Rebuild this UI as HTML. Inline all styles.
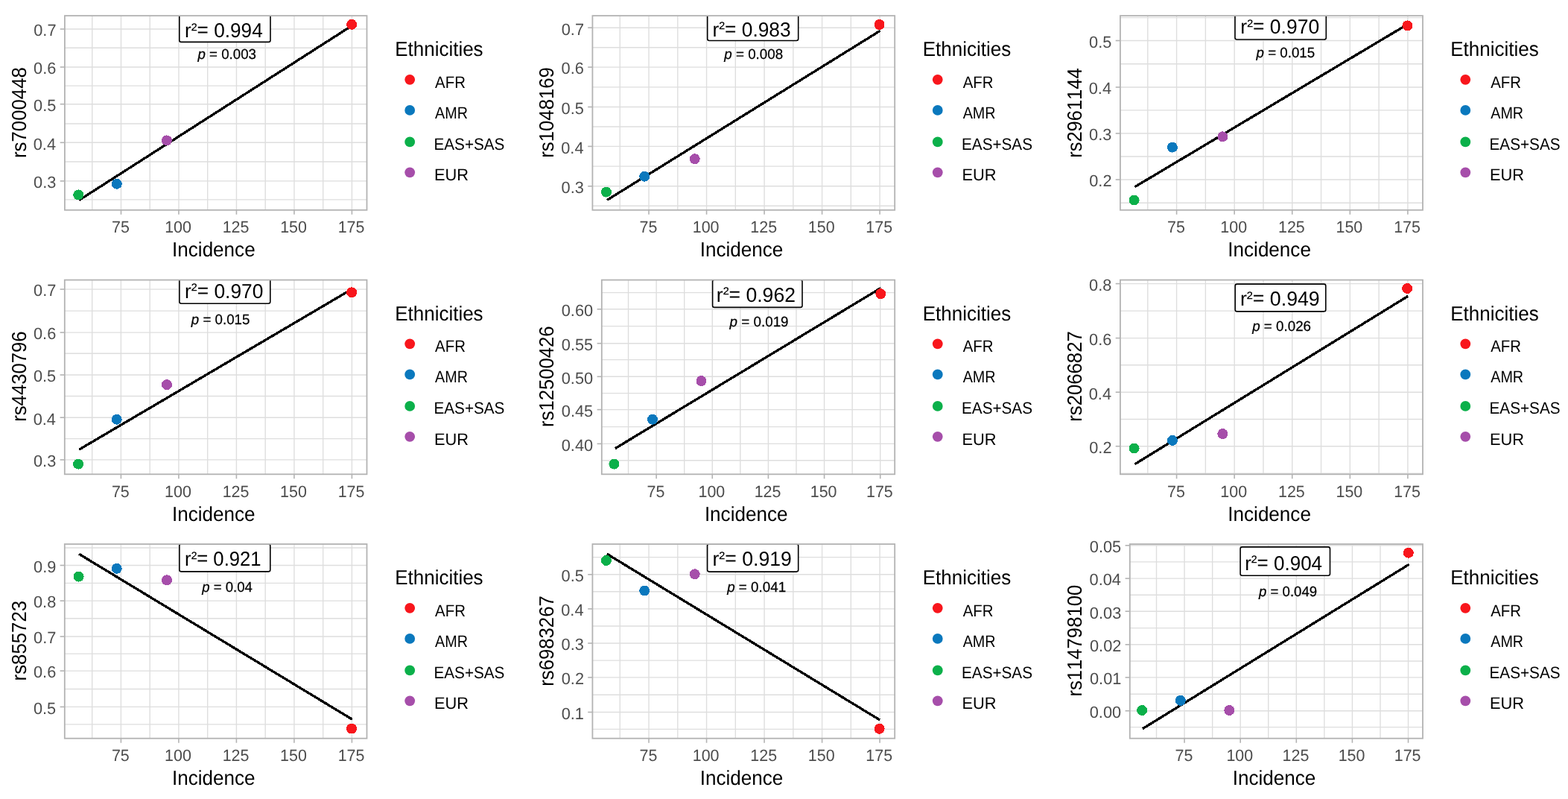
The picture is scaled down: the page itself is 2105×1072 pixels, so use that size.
<!DOCTYPE html>
<html><head><meta charset="utf-8"><title>Incidence vs allele frequency</title><style>
html,body{margin:0;padding:0;background:#fff;overflow:hidden;}
svg{display:block;}
text{font-family:"Liberation Sans",Arial,sans-serif;font-kerning:none;text-rendering:geometricPrecision;}
.gr{stroke:#DEDEDE;stroke-width:1.4;}
.bd{fill:none;stroke:#B3B3B3;stroke-width:1.8;}
.tk{stroke:#B3B3B3;stroke-width:1.6;}
.tl{font-size:22.0px;fill:#4D4D4D;}
.ti{font-size:27.4px;fill:#000;}
.lg{font-size:22.3px;fill:#000;}
.fit{stroke:#000;stroke-width:3.3;shape-rendering:crispEdges;}
.pt{shape-rendering:crispEdges;}
.lbl{fill:#fff;stroke:#000;stroke-width:1.6;}
.r2{font-size:27.2px;fill:#000;}
.pv{font-size:19.0px;fill:#000;stroke:#000;stroke-width:0.25;}
</style></head>
<body><svg width="2105" height="1072" viewBox="0 0 2105 1072">
<defs><clipPath id="c0"><rect x="86.9" y="21.1" width="405.6" height="260.7"/></clipPath><clipPath id="c1"><rect x="795.4" y="21.1" width="405.8" height="260.7"/></clipPath><clipPath id="c2"><rect x="1503.9" y="21.1" width="406.1" height="260.7"/></clipPath><clipPath id="c3"><rect x="86.8" y="375.6" width="405.7" height="260.7"/></clipPath><clipPath id="c4"><rect x="807.8" y="375.6" width="393.4" height="260.7"/></clipPath><clipPath id="c5"><rect x="1503.9" y="375.6" width="406.1" height="260.7"/></clipPath><clipPath id="c6"><rect x="86.8" y="730" width="405.7" height="260.7"/></clipPath><clipPath id="c7"><rect x="795.4" y="730" width="405.8" height="260.7"/></clipPath><clipPath id="c8"><rect x="1516.8" y="730" width="393.2" height="260.7"/></clipPath></defs>
<rect width="2105" height="1072" fill="#fff"/>
<g><line x1="86.9" x2="492.5" y1="267.86" y2="267.86" class="gr"/><line x1="86.9" x2="492.5" y1="216.95" y2="216.95" class="gr"/><line x1="86.9" x2="492.5" y1="166.04" y2="166.04" class="gr"/><line x1="86.9" x2="492.5" y1="115.13" y2="115.13" class="gr"/><line x1="86.9" x2="492.5" y1="64.22" y2="64.22" class="gr"/><line x1="123.75" x2="123.75" y1="21.1" y2="281.8" class="gr"/><line x1="201.23" x2="201.23" y1="21.1" y2="281.8" class="gr"/><line x1="278.71" x2="278.71" y1="21.1" y2="281.8" class="gr"/><line x1="356.19" x2="356.19" y1="21.1" y2="281.8" class="gr"/><line x1="433.68" x2="433.68" y1="21.1" y2="281.8" class="gr"/><line x1="86.9" x2="492.5" y1="242.9" y2="242.9" class="gr"/><line x1="86.9" x2="492.5" y1="191.3" y2="191.3" class="gr"/><line x1="86.9" x2="492.5" y1="139.7" y2="139.7" class="gr"/><line x1="86.9" x2="492.5" y1="90" y2="90" class="gr"/><line x1="86.9" x2="492.5" y1="39" y2="39" class="gr"/><line x1="162.49" x2="162.49" y1="21.1" y2="281.8" class="gr"/><line x1="239.97" x2="239.97" y1="21.1" y2="281.8" class="gr"/><line x1="317.45" x2="317.45" y1="21.1" y2="281.8" class="gr"/><line x1="394.94" x2="394.94" y1="21.1" y2="281.8" class="gr"/><line x1="472.42" x2="472.42" y1="21.1" y2="281.8" class="gr"/><g clip-path="url(#c0)"><line x1="106" y1="268.7" x2="473" y2="34.1" class="fit"/><circle cx="105.2" cy="261.4" r="7" fill="#0BB04A" class="pt"/><circle cx="156.8" cy="246.7" r="7" fill="#0A78BD" class="pt"/><circle cx="223.9" cy="188.4" r="7" fill="#A64EAA" class="pt"/><circle cx="472.1" cy="32.8" r="7" fill="#F8161C" class="pt"/><rect x="240.8" y="19.1" width="122.2" height="37.3" rx="2.5" class="lbl"/><text x="248.06" y="50.3" class="r2" textLength="104.71" lengthAdjust="spacingAndGlyphs">r<tspan font-size="0.89em" dy="-2.7">²</tspan><tspan dy="1.7">=</tspan><tspan dy="1"> 0.994</tspan></text><text x="265.47" y="78.85" class="pv" textLength="78.56" lengthAdjust="spacingAndGlyphs"><tspan font-style="italic">p</tspan> = 0.003</text></g><rect x="86.9" y="21.1" width="405.6" height="260.7" class="bd"/><line x1="80.7" x2="86.9" y1="242.9" y2="242.9" class="tk"/><text x="45.08" y="252.2" class="tl" textLength="30.28" lengthAdjust="spacingAndGlyphs">0.3</text><line x1="80.7" x2="86.9" y1="191.3" y2="191.3" class="tk"/><text x="44.76" y="200.6" class="tl" textLength="30.28" lengthAdjust="spacingAndGlyphs">0.4</text><line x1="80.7" x2="86.9" y1="139.7" y2="139.7" class="tk"/><text x="45.04" y="149" class="tl" textLength="30.28" lengthAdjust="spacingAndGlyphs">0.5</text><line x1="80.7" x2="86.9" y1="90" y2="90" class="tk"/><text x="45.08" y="99.3" class="tl" textLength="30.28" lengthAdjust="spacingAndGlyphs">0.6</text><line x1="80.7" x2="86.9" y1="39" y2="39" class="tk"/><text x="45.22" y="48.3" class="tl" textLength="30.28" lengthAdjust="spacingAndGlyphs">0.7</text><line x1="162.49" x2="162.49" y1="281.8" y2="287.8" class="tk"/><text x="149.96" y="312.4" class="tl" textLength="23.86" lengthAdjust="spacingAndGlyphs">75</text><line x1="239.97" x2="239.97" y1="281.8" y2="287.8" class="tk"/><text x="221.18" y="312.4" class="tl" textLength="35.79" lengthAdjust="spacingAndGlyphs">100</text><line x1="317.45" x2="317.45" y1="281.8" y2="287.8" class="tk"/><text x="298.69" y="312.4" class="tl" textLength="35.79" lengthAdjust="spacingAndGlyphs">125</text><line x1="394.94" x2="394.94" y1="281.8" y2="287.8" class="tk"/><text x="376.14" y="312.4" class="tl" textLength="35.79" lengthAdjust="spacingAndGlyphs">150</text><line x1="472.42" x2="472.42" y1="281.8" y2="287.8" class="tk"/><text x="453.66" y="312.4" class="tl" textLength="35.79" lengthAdjust="spacingAndGlyphs">175</text><text x="231.09" y="344.4" class="ti" textLength="111.56" lengthAdjust="spacingAndGlyphs">Incidence</text><text transform="translate(35,0) rotate(-90)" x="-212.01" y="0" class="ti" textLength="121.83" lengthAdjust="spacingAndGlyphs">rs7000448</text><text x="530.17" y="75.3" class="ti" textLength="118.47" lengthAdjust="spacingAndGlyphs">Ethnicities</text><circle cx="550.2" cy="106.8" r="6.9" fill="#F8161C"/><text x="584.11" y="117.9" class="lg" textLength="40.84" lengthAdjust="spacingAndGlyphs">AFR</text><circle cx="550.2" cy="147.9" r="6.9" fill="#0A78BD"/><text x="584.11" y="158.9" class="lg" textLength="43.91" lengthAdjust="spacingAndGlyphs">AMR</text><circle cx="550.2" cy="190.4" r="6.9" fill="#0BB04A"/><text x="582.45" y="200.9" class="lg" textLength="95" lengthAdjust="spacingAndGlyphs">EAS+SAS</text><circle cx="550.2" cy="231.3" r="6.9" fill="#A64EAA"/><text x="582.91" y="242.2" class="lg" textLength="46.1" lengthAdjust="spacingAndGlyphs">EUR</text></g>
<g><line x1="795.4" x2="1201.2" y1="276.28" y2="276.28" class="gr"/><line x1="795.4" x2="1201.2" y1="223.13" y2="223.13" class="gr"/><line x1="795.4" x2="1201.2" y1="169.98" y2="169.98" class="gr"/><line x1="795.4" x2="1201.2" y1="116.83" y2="116.83" class="gr"/><line x1="795.4" x2="1201.2" y1="63.68" y2="63.68" class="gr"/><line x1="832.27" x2="832.27" y1="21.1" y2="281.8" class="gr"/><line x1="909.79" x2="909.79" y1="21.1" y2="281.8" class="gr"/><line x1="987.31" x2="987.31" y1="21.1" y2="281.8" class="gr"/><line x1="1064.83" x2="1064.83" y1="21.1" y2="281.8" class="gr"/><line x1="1142.35" x2="1142.35" y1="21.1" y2="281.8" class="gr"/><line x1="795.4" x2="1201.2" y1="249.8" y2="249.8" class="gr"/><line x1="795.4" x2="1201.2" y1="196.4" y2="196.4" class="gr"/><line x1="795.4" x2="1201.2" y1="143.5" y2="143.5" class="gr"/><line x1="795.4" x2="1201.2" y1="90.1" y2="90.1" class="gr"/><line x1="795.4" x2="1201.2" y1="37.2" y2="37.2" class="gr"/><line x1="871.03" x2="871.03" y1="21.1" y2="281.8" class="gr"/><line x1="948.55" x2="948.55" y1="21.1" y2="281.8" class="gr"/><line x1="1026.07" x2="1026.07" y1="21.1" y2="281.8" class="gr"/><line x1="1103.59" x2="1103.59" y1="21.1" y2="281.8" class="gr"/><line x1="1181.11" x2="1181.11" y1="21.1" y2="281.8" class="gr"/><g clip-path="url(#c1)"><line x1="815" y1="268.4" x2="1181.5" y2="41.3" class="fit"/><circle cx="813.9" cy="257.6" r="7" fill="#0BB04A" class="pt"/><circle cx="865.2" cy="236.7" r="7" fill="#0A78BD" class="pt"/><circle cx="932.7" cy="213.2" r="7" fill="#A64EAA" class="pt"/><circle cx="1180.6" cy="33" r="7" fill="#F8161C" class="pt"/><rect x="949.7" y="17.2" width="122" height="37.3" rx="2.5" class="lbl"/><text x="956.55" y="48.7" class="r2" textLength="105.1" lengthAdjust="spacingAndGlyphs">r<tspan font-size="0.89em" dy="-2.7">²</tspan><tspan dy="1.7">=</tspan><tspan dy="1"> 0.983</tspan></text><text x="972.27" y="78.5" class="pv" textLength="78.95" lengthAdjust="spacingAndGlyphs"><tspan font-style="italic">p</tspan> = 0.008</text></g><rect x="795.4" y="21.1" width="405.8" height="260.7" class="bd"/><line x1="789.2" x2="795.4" y1="249.8" y2="249.8" class="tk"/><text x="753.58" y="259.1" class="tl" textLength="30.28" lengthAdjust="spacingAndGlyphs">0.3</text><line x1="789.2" x2="795.4" y1="196.4" y2="196.4" class="tk"/><text x="753.26" y="205.7" class="tl" textLength="30.28" lengthAdjust="spacingAndGlyphs">0.4</text><line x1="789.2" x2="795.4" y1="143.5" y2="143.5" class="tk"/><text x="753.54" y="152.8" class="tl" textLength="30.28" lengthAdjust="spacingAndGlyphs">0.5</text><line x1="789.2" x2="795.4" y1="90.1" y2="90.1" class="tk"/><text x="753.58" y="99.4" class="tl" textLength="30.28" lengthAdjust="spacingAndGlyphs">0.6</text><line x1="789.2" x2="795.4" y1="37.2" y2="37.2" class="tk"/><text x="753.72" y="46.5" class="tl" textLength="30.28" lengthAdjust="spacingAndGlyphs">0.7</text><line x1="871.03" x2="871.03" y1="281.8" y2="287.8" class="tk"/><text x="858.5" y="312.4" class="tl" textLength="23.86" lengthAdjust="spacingAndGlyphs">75</text><line x1="948.55" x2="948.55" y1="281.8" y2="287.8" class="tk"/><text x="929.76" y="312.4" class="tl" textLength="35.79" lengthAdjust="spacingAndGlyphs">100</text><line x1="1026.07" x2="1026.07" y1="281.8" y2="287.8" class="tk"/><text x="1007.31" y="312.4" class="tl" textLength="35.79" lengthAdjust="spacingAndGlyphs">125</text><line x1="1103.59" x2="1103.59" y1="281.8" y2="287.8" class="tk"/><text x="1084.8" y="312.4" class="tl" textLength="35.79" lengthAdjust="spacingAndGlyphs">150</text><line x1="1181.11" x2="1181.11" y1="281.8" y2="287.8" class="tk"/><text x="1162.35" y="312.4" class="tl" textLength="35.79" lengthAdjust="spacingAndGlyphs">175</text><text x="939.69" y="344.4" class="ti" textLength="111.56" lengthAdjust="spacingAndGlyphs">Incidence</text><text transform="translate(742.8,0) rotate(-90)" x="-211.81" y="0" class="ti" textLength="121.73" lengthAdjust="spacingAndGlyphs">rs1048169</text><text x="1238.72" y="75.3" class="ti" textLength="118.47" lengthAdjust="spacingAndGlyphs">Ethnicities</text><circle cx="1258.75" cy="106.8" r="6.9" fill="#F8161C"/><text x="1292.66" y="117.9" class="lg" textLength="40.84" lengthAdjust="spacingAndGlyphs">AFR</text><circle cx="1258.75" cy="147.9" r="6.9" fill="#0A78BD"/><text x="1292.66" y="158.9" class="lg" textLength="43.91" lengthAdjust="spacingAndGlyphs">AMR</text><circle cx="1258.75" cy="190.4" r="6.9" fill="#0BB04A"/><text x="1291" y="200.9" class="lg" textLength="95" lengthAdjust="spacingAndGlyphs">EAS+SAS</text><circle cx="1258.75" cy="231.3" r="6.9" fill="#A64EAA"/><text x="1291.46" y="242.2" class="lg" textLength="46.1" lengthAdjust="spacingAndGlyphs">EUR</text></g>
<g><line x1="1503.9" x2="1910" y1="272.18" y2="272.18" class="gr"/><line x1="1503.9" x2="1910" y1="210.03" y2="210.03" class="gr"/><line x1="1503.9" x2="1910" y1="147.88" y2="147.88" class="gr"/><line x1="1503.9" x2="1910" y1="85.73" y2="85.73" class="gr"/><line x1="1503.9" x2="1910" y1="23.58" y2="23.58" class="gr"/><line x1="1540.8" x2="1540.8" y1="21.1" y2="281.8" class="gr"/><line x1="1618.37" x2="1618.37" y1="21.1" y2="281.8" class="gr"/><line x1="1695.95" x2="1695.95" y1="21.1" y2="281.8" class="gr"/><line x1="1773.53" x2="1773.53" y1="21.1" y2="281.8" class="gr"/><line x1="1851.1" x2="1851.1" y1="21.1" y2="281.8" class="gr"/><line x1="1503.9" x2="1910" y1="241" y2="241" class="gr"/><line x1="1503.9" x2="1910" y1="179" y2="179" class="gr"/><line x1="1503.9" x2="1910" y1="117" y2="117" class="gr"/><line x1="1503.9" x2="1910" y1="54.5" y2="54.5" class="gr"/><line x1="1579.58" x2="1579.58" y1="21.1" y2="281.8" class="gr"/><line x1="1657.16" x2="1657.16" y1="21.1" y2="281.8" class="gr"/><line x1="1734.74" x2="1734.74" y1="21.1" y2="281.8" class="gr"/><line x1="1812.32" x2="1812.32" y1="21.1" y2="281.8" class="gr"/><line x1="1889.89" x2="1889.89" y1="21.1" y2="281.8" class="gr"/><g clip-path="url(#c2)"><line x1="1523.4" y1="250.8" x2="1890.2" y2="32.3" class="fit"/><circle cx="1522.6" cy="268.5" r="7" fill="#0BB04A" class="pt"/><circle cx="1573.9" cy="197.6" r="7" fill="#0A78BD" class="pt"/><circle cx="1641.4" cy="183.3" r="7" fill="#A64EAA" class="pt"/><circle cx="1889.4" cy="34.4" r="7" fill="#F8161C" class="pt"/><rect x="1658" y="15.7" width="122.3" height="37.3" rx="2.5" class="lbl"/><text x="1665.34" y="45.2" class="r2" textLength="105.79" lengthAdjust="spacingAndGlyphs">r<tspan font-size="0.89em" dy="-2.7">²</tspan><tspan dy="1.7">=</tspan><tspan dy="1"> 0.970</tspan></text><text x="1686.57" y="77" class="pv" textLength="78.52" lengthAdjust="spacingAndGlyphs"><tspan font-style="italic">p</tspan> = 0.015</text></g><rect x="1503.9" y="21.1" width="406.1" height="260.7" class="bd"/><line x1="1497.7" x2="1503.9" y1="241" y2="241" class="tk"/><text x="1462.22" y="250.3" class="tl" textLength="30.28" lengthAdjust="spacingAndGlyphs">0.2</text><line x1="1497.7" x2="1503.9" y1="179" y2="179" class="tk"/><text x="1462.08" y="188.3" class="tl" textLength="30.28" lengthAdjust="spacingAndGlyphs">0.3</text><line x1="1497.7" x2="1503.9" y1="117" y2="117" class="tk"/><text x="1461.76" y="126.3" class="tl" textLength="30.28" lengthAdjust="spacingAndGlyphs">0.4</text><line x1="1497.7" x2="1503.9" y1="54.5" y2="54.5" class="tk"/><text x="1462.04" y="63.8" class="tl" textLength="30.28" lengthAdjust="spacingAndGlyphs">0.5</text><line x1="1579.58" x2="1579.58" y1="281.8" y2="287.8" class="tk"/><text x="1567.06" y="312.4" class="tl" textLength="23.86" lengthAdjust="spacingAndGlyphs">75</text><line x1="1657.16" x2="1657.16" y1="281.8" y2="287.8" class="tk"/><text x="1638.37" y="312.4" class="tl" textLength="35.79" lengthAdjust="spacingAndGlyphs">100</text><line x1="1734.74" x2="1734.74" y1="281.8" y2="287.8" class="tk"/><text x="1715.98" y="312.4" class="tl" textLength="35.79" lengthAdjust="spacingAndGlyphs">125</text><line x1="1812.32" x2="1812.32" y1="281.8" y2="287.8" class="tk"/><text x="1793.52" y="312.4" class="tl" textLength="35.79" lengthAdjust="spacingAndGlyphs">150</text><line x1="1889.89" x2="1889.89" y1="281.8" y2="287.8" class="tk"/><text x="1871.13" y="312.4" class="tl" textLength="35.79" lengthAdjust="spacingAndGlyphs">175</text><text x="1648.34" y="344.4" class="ti" textLength="111.56" lengthAdjust="spacingAndGlyphs">Incidence</text><text transform="translate(1452.2,0) rotate(-90)" x="-211.79" y="0" class="ti" textLength="120.34" lengthAdjust="spacingAndGlyphs">rs2961144</text><text x="1947.27" y="75.3" class="ti" textLength="118.47" lengthAdjust="spacingAndGlyphs">Ethnicities</text><circle cx="1967.3" cy="106.8" r="6.9" fill="#F8161C"/><text x="2001.21" y="117.9" class="lg" textLength="40.84" lengthAdjust="spacingAndGlyphs">AFR</text><circle cx="1967.3" cy="147.9" r="6.9" fill="#0A78BD"/><text x="2001.21" y="158.9" class="lg" textLength="43.91" lengthAdjust="spacingAndGlyphs">AMR</text><circle cx="1967.3" cy="190.4" r="6.9" fill="#0BB04A"/><text x="1999.55" y="200.9" class="lg" textLength="95" lengthAdjust="spacingAndGlyphs">EAS+SAS</text><circle cx="1967.3" cy="231.3" r="6.9" fill="#A64EAA"/><text x="2000.01" y="242.2" class="lg" textLength="46.1" lengthAdjust="spacingAndGlyphs">EUR</text></g>
<g><line x1="86.8" x2="492.5" y1="588.62" y2="588.62" class="gr"/><line x1="86.8" x2="492.5" y1="531.45" y2="531.45" class="gr"/><line x1="86.8" x2="492.5" y1="474.28" y2="474.28" class="gr"/><line x1="86.8" x2="492.5" y1="417.11" y2="417.11" class="gr"/><line x1="123.66" x2="123.66" y1="375.6" y2="636.3" class="gr"/><line x1="201.16" x2="201.16" y1="375.6" y2="636.3" class="gr"/><line x1="278.66" x2="278.66" y1="375.6" y2="636.3" class="gr"/><line x1="356.16" x2="356.16" y1="375.6" y2="636.3" class="gr"/><line x1="433.66" x2="433.66" y1="375.6" y2="636.3" class="gr"/><line x1="86.8" x2="492.5" y1="616.9" y2="616.9" class="gr"/><line x1="86.8" x2="492.5" y1="560.2" y2="560.2" class="gr"/><line x1="86.8" x2="492.5" y1="503" y2="503" class="gr"/><line x1="86.8" x2="492.5" y1="446.1" y2="446.1" class="gr"/><line x1="86.8" x2="492.5" y1="388.1" y2="388.1" class="gr"/><line x1="162.41" x2="162.41" y1="375.6" y2="636.3" class="gr"/><line x1="239.91" x2="239.91" y1="375.6" y2="636.3" class="gr"/><line x1="317.41" x2="317.41" y1="375.6" y2="636.3" class="gr"/><line x1="394.91" x2="394.91" y1="375.6" y2="636.3" class="gr"/><line x1="472.41" x2="472.41" y1="375.6" y2="636.3" class="gr"/><g clip-path="url(#c3)"><line x1="106.2" y1="603.2" x2="473" y2="387.6" class="fit"/><circle cx="105.1" cy="622.6" r="7" fill="#0BB04A" class="pt"/><circle cx="156.7" cy="562.7" r="7" fill="#0A78BD" class="pt"/><circle cx="224" cy="516.1" r="7" fill="#A64EAA" class="pt"/><circle cx="472.1" cy="392.3" r="7" fill="#F8161C" class="pt"/><rect x="240.9" y="369.9" width="121.9" height="37.3" rx="2.5" class="lbl"/><text x="248.05" y="399.8" class="r2" textLength="105.38" lengthAdjust="spacingAndGlyphs">r<tspan font-size="0.89em" dy="-2.7">²</tspan><tspan dy="1.7">=</tspan><tspan dy="1"> 0.970</tspan></text><text x="256.87" y="434.7" class="pv" textLength="78.52" lengthAdjust="spacingAndGlyphs"><tspan font-style="italic">p</tspan> = 0.015</text></g><rect x="86.8" y="375.6" width="405.7" height="260.7" class="bd"/><line x1="80.6" x2="86.8" y1="616.9" y2="616.9" class="tk"/><text x="44.98" y="626.2" class="tl" textLength="30.28" lengthAdjust="spacingAndGlyphs">0.3</text><line x1="80.6" x2="86.8" y1="560.2" y2="560.2" class="tk"/><text x="44.66" y="569.5" class="tl" textLength="30.28" lengthAdjust="spacingAndGlyphs">0.4</text><line x1="80.6" x2="86.8" y1="503" y2="503" class="tk"/><text x="44.94" y="512.3" class="tl" textLength="30.28" lengthAdjust="spacingAndGlyphs">0.5</text><line x1="80.6" x2="86.8" y1="446.1" y2="446.1" class="tk"/><text x="44.98" y="455.4" class="tl" textLength="30.28" lengthAdjust="spacingAndGlyphs">0.6</text><line x1="80.6" x2="86.8" y1="388.1" y2="388.1" class="tk"/><text x="45.12" y="397.4" class="tl" textLength="30.28" lengthAdjust="spacingAndGlyphs">0.7</text><line x1="162.41" x2="162.41" y1="636.3" y2="642.3" class="tk"/><text x="149.88" y="666.9" class="tl" textLength="23.86" lengthAdjust="spacingAndGlyphs">75</text><line x1="239.91" x2="239.91" y1="636.3" y2="642.3" class="tk"/><text x="221.12" y="666.9" class="tl" textLength="35.79" lengthAdjust="spacingAndGlyphs">100</text><line x1="317.41" x2="317.41" y1="636.3" y2="642.3" class="tk"/><text x="298.65" y="666.9" class="tl" textLength="35.79" lengthAdjust="spacingAndGlyphs">125</text><line x1="394.91" x2="394.91" y1="636.3" y2="642.3" class="tk"/><text x="376.12" y="666.9" class="tl" textLength="35.79" lengthAdjust="spacingAndGlyphs">150</text><line x1="472.41" x2="472.41" y1="636.3" y2="642.3" class="tk"/><text x="453.65" y="666.9" class="tl" textLength="35.79" lengthAdjust="spacingAndGlyphs">175</text><text x="231.04" y="698.9" class="ti" textLength="111.56" lengthAdjust="spacingAndGlyphs">Incidence</text><text transform="translate(35,0) rotate(-90)" x="-565.81" y="0" class="ti" textLength="121.44" lengthAdjust="spacingAndGlyphs">rs4430796</text><text x="530.17" y="429.8" class="ti" textLength="118.47" lengthAdjust="spacingAndGlyphs">Ethnicities</text><circle cx="550.2" cy="461.3" r="6.9" fill="#F8161C"/><text x="584.11" y="472.4" class="lg" textLength="40.84" lengthAdjust="spacingAndGlyphs">AFR</text><circle cx="550.2" cy="502.4" r="6.9" fill="#0A78BD"/><text x="584.11" y="513.4" class="lg" textLength="43.91" lengthAdjust="spacingAndGlyphs">AMR</text><circle cx="550.2" cy="544.9" r="6.9" fill="#0BB04A"/><text x="582.45" y="555.4" class="lg" textLength="95" lengthAdjust="spacingAndGlyphs">EAS+SAS</text><circle cx="550.2" cy="585.8" r="6.9" fill="#A64EAA"/><text x="582.91" y="596.7" class="lg" textLength="46.1" lengthAdjust="spacingAndGlyphs">EUR</text></g>
<g><line x1="807.8" x2="1201.2" y1="617.68" y2="617.68" class="gr"/><line x1="807.8" x2="1201.2" y1="572.67" y2="572.67" class="gr"/><line x1="807.8" x2="1201.2" y1="527.66" y2="527.66" class="gr"/><line x1="807.8" x2="1201.2" y1="482.65" y2="482.65" class="gr"/><line x1="807.8" x2="1201.2" y1="437.64" y2="437.64" class="gr"/><line x1="807.8" x2="1201.2" y1="392.63" y2="392.63" class="gr"/><line x1="843.54" x2="843.54" y1="375.6" y2="636.3" class="gr"/><line x1="918.69" x2="918.69" y1="375.6" y2="636.3" class="gr"/><line x1="993.84" x2="993.84" y1="375.6" y2="636.3" class="gr"/><line x1="1068.99" x2="1068.99" y1="375.6" y2="636.3" class="gr"/><line x1="1144.15" x2="1144.15" y1="375.6" y2="636.3" class="gr"/><line x1="807.8" x2="1201.2" y1="595.4" y2="595.4" class="gr"/><line x1="807.8" x2="1201.2" y1="549.6" y2="549.6" class="gr"/><line x1="807.8" x2="1201.2" y1="505.3" y2="505.3" class="gr"/><line x1="807.8" x2="1201.2" y1="460.7" y2="460.7" class="gr"/><line x1="807.8" x2="1201.2" y1="414.8" y2="414.8" class="gr"/><line x1="881.12" x2="881.12" y1="375.6" y2="636.3" class="gr"/><line x1="956.27" x2="956.27" y1="375.6" y2="636.3" class="gr"/><line x1="1031.42" x2="1031.42" y1="375.6" y2="636.3" class="gr"/><line x1="1106.57" x2="1106.57" y1="375.6" y2="636.3" class="gr"/><line x1="1181.72" x2="1181.72" y1="375.6" y2="636.3" class="gr"/><g clip-path="url(#c4)"><line x1="825.8" y1="601.7" x2="1182.2" y2="386.6" class="fit"/><circle cx="824.4" cy="622.6" r="7" fill="#0BB04A" class="pt"/><circle cx="876" cy="562.7" r="7" fill="#0A78BD" class="pt"/><circle cx="941.5" cy="511.1" r="7" fill="#A64EAA" class="pt"/><circle cx="1182.3" cy="394.1" r="7" fill="#F8161C" class="pt"/><rect x="956.6" y="375.1" width="120.4" height="37.3" rx="2.5" class="lbl"/><text x="961.84" y="404.9" class="r2" textLength="106.1" lengthAdjust="spacingAndGlyphs">r<tspan font-size="0.89em" dy="-2.7">²</tspan><tspan dy="1.7">=</tspan><tspan dy="1"> 0.962</tspan></text><text x="979.57" y="438.2" class="pv" textLength="79.02" lengthAdjust="spacingAndGlyphs"><tspan font-style="italic">p</tspan> = 0.019</text></g><rect x="807.8" y="375.6" width="393.4" height="260.7" class="bd"/><line x1="801.6" x2="807.8" y1="595.4" y2="595.4" class="tk"/><text x="753.76" y="604.7" class="tl" textLength="42.39" lengthAdjust="spacingAndGlyphs">0.40</text><line x1="801.6" x2="807.8" y1="549.6" y2="549.6" class="tk"/><text x="753.82" y="558.9" class="tl" textLength="42.39" lengthAdjust="spacingAndGlyphs">0.45</text><line x1="801.6" x2="807.8" y1="505.3" y2="505.3" class="tk"/><text x="753.76" y="514.6" class="tl" textLength="42.39" lengthAdjust="spacingAndGlyphs">0.50</text><line x1="801.6" x2="807.8" y1="460.7" y2="460.7" class="tk"/><text x="753.82" y="470" class="tl" textLength="42.39" lengthAdjust="spacingAndGlyphs">0.55</text><line x1="801.6" x2="807.8" y1="414.8" y2="414.8" class="tk"/><text x="753.76" y="424.1" class="tl" textLength="42.39" lengthAdjust="spacingAndGlyphs">0.60</text><line x1="881.12" x2="881.12" y1="636.3" y2="642.3" class="tk"/><text x="868.59" y="666.9" class="tl" textLength="23.86" lengthAdjust="spacingAndGlyphs">75</text><line x1="956.27" x2="956.27" y1="636.3" y2="642.3" class="tk"/><text x="937.48" y="666.9" class="tl" textLength="35.79" lengthAdjust="spacingAndGlyphs">100</text><line x1="1031.42" x2="1031.42" y1="636.3" y2="642.3" class="tk"/><text x="1012.66" y="666.9" class="tl" textLength="35.79" lengthAdjust="spacingAndGlyphs">125</text><line x1="1106.57" x2="1106.57" y1="636.3" y2="642.3" class="tk"/><text x="1087.78" y="666.9" class="tl" textLength="35.79" lengthAdjust="spacingAndGlyphs">150</text><line x1="1181.72" x2="1181.72" y1="636.3" y2="642.3" class="tk"/><text x="1162.96" y="666.9" class="tl" textLength="35.79" lengthAdjust="spacingAndGlyphs">175</text><text x="945.89" y="698.9" class="ti" textLength="111.56" lengthAdjust="spacingAndGlyphs">Incidence</text><text transform="translate(742.8,0) rotate(-90)" x="-572.9" y="0" class="ti" textLength="135.33" lengthAdjust="spacingAndGlyphs">rs12500426</text><text x="1238.72" y="429.8" class="ti" textLength="118.47" lengthAdjust="spacingAndGlyphs">Ethnicities</text><circle cx="1258.75" cy="461.3" r="6.9" fill="#F8161C"/><text x="1292.66" y="472.4" class="lg" textLength="40.84" lengthAdjust="spacingAndGlyphs">AFR</text><circle cx="1258.75" cy="502.4" r="6.9" fill="#0A78BD"/><text x="1292.66" y="513.4" class="lg" textLength="43.91" lengthAdjust="spacingAndGlyphs">AMR</text><circle cx="1258.75" cy="544.9" r="6.9" fill="#0BB04A"/><text x="1291" y="555.4" class="lg" textLength="95" lengthAdjust="spacingAndGlyphs">EAS+SAS</text><circle cx="1258.75" cy="585.8" r="6.9" fill="#A64EAA"/><text x="1291.46" y="596.7" class="lg" textLength="46.1" lengthAdjust="spacingAndGlyphs">EUR</text></g>
<g><line x1="1503.9" x2="1910" y1="635.16" y2="635.16" class="gr"/><line x1="1503.9" x2="1910" y1="562.47" y2="562.47" class="gr"/><line x1="1503.9" x2="1910" y1="489.78" y2="489.78" class="gr"/><line x1="1503.9" x2="1910" y1="417.09" y2="417.09" class="gr"/><line x1="1540.8" x2="1540.8" y1="375.6" y2="636.3" class="gr"/><line x1="1618.37" x2="1618.37" y1="375.6" y2="636.3" class="gr"/><line x1="1695.95" x2="1695.95" y1="375.6" y2="636.3" class="gr"/><line x1="1773.53" x2="1773.53" y1="375.6" y2="636.3" class="gr"/><line x1="1851.1" x2="1851.1" y1="375.6" y2="636.3" class="gr"/><line x1="1503.9" x2="1910" y1="598.7" y2="598.7" class="gr"/><line x1="1503.9" x2="1910" y1="526.2" y2="526.2" class="gr"/><line x1="1503.9" x2="1910" y1="453.6" y2="453.6" class="gr"/><line x1="1503.9" x2="1910" y1="380.6" y2="380.6" class="gr"/><line x1="1579.58" x2="1579.58" y1="375.6" y2="636.3" class="gr"/><line x1="1657.16" x2="1657.16" y1="375.6" y2="636.3" class="gr"/><line x1="1734.74" x2="1734.74" y1="375.6" y2="636.3" class="gr"/><line x1="1812.32" x2="1812.32" y1="375.6" y2="636.3" class="gr"/><line x1="1889.89" x2="1889.89" y1="375.6" y2="636.3" class="gr"/><g clip-path="url(#c5)"><line x1="1523.4" y1="622.8" x2="1890.2" y2="397.3" class="fit"/><circle cx="1522.6" cy="601.5" r="7" fill="#0BB04A" class="pt"/><circle cx="1573.9" cy="590.9" r="7" fill="#0A78BD" class="pt"/><circle cx="1641.4" cy="582.1" r="7" fill="#A64EAA" class="pt"/><circle cx="1889.2" cy="387" r="7" fill="#F8161C" class="pt"/><rect x="1658.2" y="381.1" width="121.6" height="36.8" rx="2.5" class="lbl"/><text x="1664.92" y="410.3" class="r2" textLength="106.84" lengthAdjust="spacingAndGlyphs">r<tspan font-size="0.89em" dy="-2.7">²</tspan><tspan dy="1.7">=</tspan><tspan dy="1"> 0.949</tspan></text><text x="1681.17" y="443.6" class="pv" textLength="78.86" lengthAdjust="spacingAndGlyphs"><tspan font-style="italic">p</tspan> = 0.026</text></g><rect x="1503.9" y="375.6" width="406.1" height="260.7" class="bd"/><line x1="1497.7" x2="1503.9" y1="598.7" y2="598.7" class="tk"/><text x="1462.22" y="608" class="tl" textLength="30.28" lengthAdjust="spacingAndGlyphs">0.2</text><line x1="1497.7" x2="1503.9" y1="526.2" y2="526.2" class="tk"/><text x="1461.76" y="535.5" class="tl" textLength="30.28" lengthAdjust="spacingAndGlyphs">0.4</text><line x1="1497.7" x2="1503.9" y1="453.6" y2="453.6" class="tk"/><text x="1462.08" y="462.9" class="tl" textLength="30.28" lengthAdjust="spacingAndGlyphs">0.6</text><line x1="1497.7" x2="1503.9" y1="380.6" y2="380.6" class="tk"/><text x="1462.07" y="389.9" class="tl" textLength="30.28" lengthAdjust="spacingAndGlyphs">0.8</text><line x1="1579.58" x2="1579.58" y1="636.3" y2="642.3" class="tk"/><text x="1567.06" y="666.9" class="tl" textLength="23.86" lengthAdjust="spacingAndGlyphs">75</text><line x1="1657.16" x2="1657.16" y1="636.3" y2="642.3" class="tk"/><text x="1638.37" y="666.9" class="tl" textLength="35.79" lengthAdjust="spacingAndGlyphs">100</text><line x1="1734.74" x2="1734.74" y1="636.3" y2="642.3" class="tk"/><text x="1715.98" y="666.9" class="tl" textLength="35.79" lengthAdjust="spacingAndGlyphs">125</text><line x1="1812.32" x2="1812.32" y1="636.3" y2="642.3" class="tk"/><text x="1793.52" y="666.9" class="tl" textLength="35.79" lengthAdjust="spacingAndGlyphs">150</text><line x1="1889.89" x2="1889.89" y1="636.3" y2="642.3" class="tk"/><text x="1871.13" y="666.9" class="tl" textLength="35.79" lengthAdjust="spacingAndGlyphs">175</text><text x="1648.34" y="698.9" class="ti" textLength="111.56" lengthAdjust="spacingAndGlyphs">Incidence</text><text transform="translate(1452.2,0) rotate(-90)" x="-565.81" y="0" class="ti" textLength="121.6" lengthAdjust="spacingAndGlyphs">rs2066827</text><text x="1947.27" y="429.8" class="ti" textLength="118.47" lengthAdjust="spacingAndGlyphs">Ethnicities</text><circle cx="1967.3" cy="461.3" r="6.9" fill="#F8161C"/><text x="2001.21" y="472.4" class="lg" textLength="40.84" lengthAdjust="spacingAndGlyphs">AFR</text><circle cx="1967.3" cy="502.4" r="6.9" fill="#0A78BD"/><text x="2001.21" y="513.4" class="lg" textLength="43.91" lengthAdjust="spacingAndGlyphs">AMR</text><circle cx="1967.3" cy="544.9" r="6.9" fill="#0BB04A"/><text x="1999.55" y="555.4" class="lg" textLength="95" lengthAdjust="spacingAndGlyphs">EAS+SAS</text><circle cx="1967.3" cy="585.8" r="6.9" fill="#A64EAA"/><text x="2000.01" y="596.7" class="lg" textLength="46.1" lengthAdjust="spacingAndGlyphs">EUR</text></g>
<g><line x1="86.8" x2="492.5" y1="971.87" y2="971.87" class="gr"/><line x1="86.8" x2="492.5" y1="924.49" y2="924.49" class="gr"/><line x1="86.8" x2="492.5" y1="877.11" y2="877.11" class="gr"/><line x1="86.8" x2="492.5" y1="829.73" y2="829.73" class="gr"/><line x1="86.8" x2="492.5" y1="782.35" y2="782.35" class="gr"/><line x1="86.8" x2="492.5" y1="734.97" y2="734.97" class="gr"/><line x1="123.66" x2="123.66" y1="730" y2="990.7" class="gr"/><line x1="201.16" x2="201.16" y1="730" y2="990.7" class="gr"/><line x1="278.66" x2="278.66" y1="730" y2="990.7" class="gr"/><line x1="356.16" x2="356.16" y1="730" y2="990.7" class="gr"/><line x1="433.66" x2="433.66" y1="730" y2="990.7" class="gr"/><line x1="86.8" x2="492.5" y1="948.4" y2="948.4" class="gr"/><line x1="86.8" x2="492.5" y1="900.1" y2="900.1" class="gr"/><line x1="86.8" x2="492.5" y1="854" y2="854" class="gr"/><line x1="86.8" x2="492.5" y1="806.1" y2="806.1" class="gr"/><line x1="86.8" x2="492.5" y1="758.5" y2="758.5" class="gr"/><line x1="162.41" x2="162.41" y1="730" y2="990.7" class="gr"/><line x1="239.91" x2="239.91" y1="730" y2="990.7" class="gr"/><line x1="317.41" x2="317.41" y1="730" y2="990.7" class="gr"/><line x1="394.91" x2="394.91" y1="730" y2="990.7" class="gr"/><line x1="472.41" x2="472.41" y1="730" y2="990.7" class="gr"/><g clip-path="url(#c6)"><line x1="106.1" y1="743.3" x2="473" y2="965.3" class="fit"/><circle cx="105.6" cy="773.6" r="7" fill="#0BB04A" class="pt"/><circle cx="156.7" cy="762.8" r="7" fill="#0A78BD" class="pt"/><circle cx="224" cy="778.4" r="7" fill="#A64EAA" class="pt"/><circle cx="472" cy="977.6" r="7" fill="#F8161C" class="pt"/><rect x="240.9" y="729.6" width="121.9" height="37.3" rx="2.5" class="lbl"/><text x="248.1" y="759.2" class="r2" textLength="102.46" lengthAdjust="spacingAndGlyphs">r<tspan font-size="0.89em" dy="-2.7">²</tspan><tspan dy="1.7">=</tspan><tspan dy="1"> 0.921</tspan></text><text x="271.16" y="794.4" class="pv" textLength="67.78" lengthAdjust="spacingAndGlyphs"><tspan font-style="italic">p</tspan> = 0.04</text></g><rect x="86.8" y="730" width="405.7" height="260.7" class="bd"/><line x1="80.6" x2="86.8" y1="948.4" y2="948.4" class="tk"/><text x="44.94" y="957.7" class="tl" textLength="30.28" lengthAdjust="spacingAndGlyphs">0.5</text><line x1="80.6" x2="86.8" y1="900.1" y2="900.1" class="tk"/><text x="44.98" y="909.4" class="tl" textLength="30.28" lengthAdjust="spacingAndGlyphs">0.6</text><line x1="80.6" x2="86.8" y1="854" y2="854" class="tk"/><text x="45.12" y="863.3" class="tl" textLength="30.28" lengthAdjust="spacingAndGlyphs">0.7</text><line x1="80.6" x2="86.8" y1="806.1" y2="806.1" class="tk"/><text x="44.97" y="815.4" class="tl" textLength="30.28" lengthAdjust="spacingAndGlyphs">0.8</text><line x1="80.6" x2="86.8" y1="758.5" y2="758.5" class="tk"/><text x="45.05" y="767.8" class="tl" textLength="30.28" lengthAdjust="spacingAndGlyphs">0.9</text><line x1="162.41" x2="162.41" y1="990.7" y2="996.7" class="tk"/><text x="149.88" y="1021.3" class="tl" textLength="23.86" lengthAdjust="spacingAndGlyphs">75</text><line x1="239.91" x2="239.91" y1="990.7" y2="996.7" class="tk"/><text x="221.12" y="1021.3" class="tl" textLength="35.79" lengthAdjust="spacingAndGlyphs">100</text><line x1="317.41" x2="317.41" y1="990.7" y2="996.7" class="tk"/><text x="298.65" y="1021.3" class="tl" textLength="35.79" lengthAdjust="spacingAndGlyphs">125</text><line x1="394.91" x2="394.91" y1="990.7" y2="996.7" class="tk"/><text x="376.12" y="1021.3" class="tl" textLength="35.79" lengthAdjust="spacingAndGlyphs">150</text><line x1="472.41" x2="472.41" y1="990.7" y2="996.7" class="tk"/><text x="453.65" y="1021.3" class="tl" textLength="35.79" lengthAdjust="spacingAndGlyphs">175</text><text x="231.04" y="1053.3" class="ti" textLength="111.56" lengthAdjust="spacingAndGlyphs">Incidence</text><text transform="translate(35,0) rotate(-90)" x="-913.41" y="0" class="ti" textLength="107.55" lengthAdjust="spacingAndGlyphs">rs855723</text><text x="530.17" y="784.3" class="ti" textLength="118.47" lengthAdjust="spacingAndGlyphs">Ethnicities</text><circle cx="550.2" cy="815.8" r="6.9" fill="#F8161C"/><text x="584.11" y="826.9" class="lg" textLength="40.84" lengthAdjust="spacingAndGlyphs">AFR</text><circle cx="550.2" cy="856.9" r="6.9" fill="#0A78BD"/><text x="584.11" y="867.9" class="lg" textLength="43.91" lengthAdjust="spacingAndGlyphs">AMR</text><circle cx="550.2" cy="899.4" r="6.9" fill="#0BB04A"/><text x="582.45" y="909.9" class="lg" textLength="95" lengthAdjust="spacingAndGlyphs">EAS+SAS</text><circle cx="550.2" cy="940.3" r="6.9" fill="#A64EAA"/><text x="582.91" y="951.2" class="lg" textLength="46.1" lengthAdjust="spacingAndGlyphs">EUR</text></g>
<g><line x1="795.4" x2="1201.2" y1="978.37" y2="978.37" class="gr"/><line x1="795.4" x2="1201.2" y1="932.23" y2="932.23" class="gr"/><line x1="795.4" x2="1201.2" y1="886.09" y2="886.09" class="gr"/><line x1="795.4" x2="1201.2" y1="839.95" y2="839.95" class="gr"/><line x1="795.4" x2="1201.2" y1="793.81" y2="793.81" class="gr"/><line x1="795.4" x2="1201.2" y1="747.67" y2="747.67" class="gr"/><line x1="832.27" x2="832.27" y1="730" y2="990.7" class="gr"/><line x1="909.79" x2="909.79" y1="730" y2="990.7" class="gr"/><line x1="987.31" x2="987.31" y1="730" y2="990.7" class="gr"/><line x1="1064.83" x2="1064.83" y1="730" y2="990.7" class="gr"/><line x1="1142.35" x2="1142.35" y1="730" y2="990.7" class="gr"/><line x1="795.4" x2="1201.2" y1="955.5" y2="955.5" class="gr"/><line x1="795.4" x2="1201.2" y1="908.9" y2="908.9" class="gr"/><line x1="795.4" x2="1201.2" y1="863" y2="863" class="gr"/><line x1="795.4" x2="1201.2" y1="816.9" y2="816.9" class="gr"/><line x1="795.4" x2="1201.2" y1="770.8" y2="770.8" class="gr"/><line x1="871.03" x2="871.03" y1="730" y2="990.7" class="gr"/><line x1="948.55" x2="948.55" y1="730" y2="990.7" class="gr"/><line x1="1026.07" x2="1026.07" y1="730" y2="990.7" class="gr"/><line x1="1103.59" x2="1103.59" y1="730" y2="990.7" class="gr"/><line x1="1181.11" x2="1181.11" y1="730" y2="990.7" class="gr"/><g clip-path="url(#c7)"><line x1="815" y1="743.3" x2="1181" y2="965.9" class="fit"/><circle cx="813.9" cy="752" r="7" fill="#0BB04A" class="pt"/><circle cx="865.2" cy="792.5" r="7" fill="#0A78BD" class="pt"/><circle cx="932.7" cy="770.3" r="7" fill="#A64EAA" class="pt"/><circle cx="1180.6" cy="977.8" r="7" fill="#F8161C" class="pt"/><rect x="949.6" y="729.8" width="122.1" height="37.3" rx="2.5" class="lbl"/><text x="956.43" y="759.3" class="r2" textLength="106.43" lengthAdjust="spacingAndGlyphs">r<tspan font-size="0.89em" dy="-2.7">²</tspan><tspan dy="1.7">=</tspan><tspan dy="1"> 0.919</tspan></text><text x="976.17" y="794.4" class="pv" textLength="78.95" lengthAdjust="spacingAndGlyphs"><tspan font-style="italic">p</tspan> = 0.041</text></g><rect x="795.4" y="730" width="405.8" height="260.7" class="bd"/><line x1="789.2" x2="795.4" y1="955.5" y2="955.5" class="tk"/><text x="753.69" y="964.8" class="tl" textLength="30.28" lengthAdjust="spacingAndGlyphs">0.1</text><line x1="789.2" x2="795.4" y1="908.9" y2="908.9" class="tk"/><text x="753.72" y="918.2" class="tl" textLength="30.28" lengthAdjust="spacingAndGlyphs">0.2</text><line x1="789.2" x2="795.4" y1="863" y2="863" class="tk"/><text x="753.58" y="872.3" class="tl" textLength="30.28" lengthAdjust="spacingAndGlyphs">0.3</text><line x1="789.2" x2="795.4" y1="816.9" y2="816.9" class="tk"/><text x="753.26" y="826.2" class="tl" textLength="30.28" lengthAdjust="spacingAndGlyphs">0.4</text><line x1="789.2" x2="795.4" y1="770.8" y2="770.8" class="tk"/><text x="753.54" y="780.1" class="tl" textLength="30.28" lengthAdjust="spacingAndGlyphs">0.5</text><line x1="871.03" x2="871.03" y1="990.7" y2="996.7" class="tk"/><text x="858.5" y="1021.3" class="tl" textLength="23.86" lengthAdjust="spacingAndGlyphs">75</text><line x1="948.55" x2="948.55" y1="990.7" y2="996.7" class="tk"/><text x="929.76" y="1021.3" class="tl" textLength="35.79" lengthAdjust="spacingAndGlyphs">100</text><line x1="1026.07" x2="1026.07" y1="990.7" y2="996.7" class="tk"/><text x="1007.31" y="1021.3" class="tl" textLength="35.79" lengthAdjust="spacingAndGlyphs">125</text><line x1="1103.59" x2="1103.59" y1="990.7" y2="996.7" class="tk"/><text x="1084.8" y="1021.3" class="tl" textLength="35.79" lengthAdjust="spacingAndGlyphs">150</text><line x1="1181.11" x2="1181.11" y1="990.7" y2="996.7" class="tk"/><text x="1162.35" y="1021.3" class="tl" textLength="35.79" lengthAdjust="spacingAndGlyphs">175</text><text x="939.69" y="1053.3" class="ti" textLength="111.56" lengthAdjust="spacingAndGlyphs">Incidence</text><text transform="translate(742.8,0) rotate(-90)" x="-920.81" y="0" class="ti" textLength="121.6" lengthAdjust="spacingAndGlyphs">rs6983267</text><text x="1238.72" y="784.3" class="ti" textLength="118.47" lengthAdjust="spacingAndGlyphs">Ethnicities</text><circle cx="1258.75" cy="815.8" r="6.9" fill="#F8161C"/><text x="1292.66" y="826.9" class="lg" textLength="40.84" lengthAdjust="spacingAndGlyphs">AFR</text><circle cx="1258.75" cy="856.9" r="6.9" fill="#0A78BD"/><text x="1292.66" y="867.9" class="lg" textLength="43.91" lengthAdjust="spacingAndGlyphs">AMR</text><circle cx="1258.75" cy="899.4" r="6.9" fill="#0BB04A"/><text x="1291" y="909.9" class="lg" textLength="95" lengthAdjust="spacingAndGlyphs">EAS+SAS</text><circle cx="1258.75" cy="940.3" r="6.9" fill="#A64EAA"/><text x="1291.46" y="951.2" class="lg" textLength="46.1" lengthAdjust="spacingAndGlyphs">EUR</text></g>
<g><line x1="1516.8" x2="1910" y1="975.65" y2="975.65" class="gr"/><line x1="1516.8" x2="1910" y1="931.3" y2="931.3" class="gr"/><line x1="1516.8" x2="1910" y1="886.94" y2="886.94" class="gr"/><line x1="1516.8" x2="1910" y1="842.58" y2="842.58" class="gr"/><line x1="1516.8" x2="1910" y1="798.23" y2="798.23" class="gr"/><line x1="1516.8" x2="1910" y1="753.87" y2="753.87" class="gr"/><line x1="1552.52" x2="1552.52" y1="730" y2="990.7" class="gr"/><line x1="1627.64" x2="1627.64" y1="730" y2="990.7" class="gr"/><line x1="1702.75" x2="1702.75" y1="730" y2="990.7" class="gr"/><line x1="1777.86" x2="1777.86" y1="730" y2="990.7" class="gr"/><line x1="1852.97" x2="1852.97" y1="730" y2="990.7" class="gr"/><line x1="1516.8" x2="1910" y1="953.7" y2="953.7" class="gr"/><line x1="1516.8" x2="1910" y1="908.9" y2="908.9" class="gr"/><line x1="1516.8" x2="1910" y1="864.8" y2="864.8" class="gr"/><line x1="1516.8" x2="1910" y1="820.2" y2="820.2" class="gr"/><line x1="1516.8" x2="1910" y1="776.1" y2="776.1" class="gr"/><line x1="1516.8" x2="1910" y1="731.8" y2="731.8" class="gr"/><line x1="1590.08" x2="1590.08" y1="730" y2="990.7" class="gr"/><line x1="1665.19" x2="1665.19" y1="730" y2="990.7" class="gr"/><line x1="1740.31" x2="1740.31" y1="730" y2="990.7" class="gr"/><line x1="1815.42" x2="1815.42" y1="730" y2="990.7" class="gr"/><line x1="1890.53" x2="1890.53" y1="730" y2="990.7" class="gr"/><g clip-path="url(#c8)"><line x1="1534" y1="977.7" x2="1891.5" y2="757.3" class="fit"/><circle cx="1533.2" cy="953" r="7" fill="#0BB04A" class="pt"/><circle cx="1584.8" cy="939.9" r="7" fill="#0A78BD" class="pt"/><circle cx="1650.3" cy="953" r="7" fill="#A64EAA" class="pt"/><circle cx="1890.8" cy="741.7" r="7" fill="#F8161C" class="pt"/><rect x="1665.1" y="733.9" width="120.4" height="38.3" rx="2.5" class="lbl"/><text x="1671.17" y="764.5" class="r2" textLength="103.89" lengthAdjust="spacingAndGlyphs">r<tspan font-size="0.89em" dy="-2.7">²</tspan><tspan dy="1.7">=</tspan><tspan dy="1"> 0.904</tspan></text><text x="1689.96" y="799.7" class="pv" textLength="78.22" lengthAdjust="spacingAndGlyphs"><tspan font-style="italic">p</tspan> = 0.049</text></g><rect x="1516.8" y="730" width="393.2" height="260.7" class="bd"/><line x1="1510.6" x2="1516.8" y1="953.7" y2="953.7" class="tk"/><text x="1462.76" y="963" class="tl" textLength="42.39" lengthAdjust="spacingAndGlyphs">0.00</text><line x1="1510.6" x2="1516.8" y1="908.9" y2="908.9" class="tk"/><text x="1462.97" y="918.2" class="tl" textLength="42.39" lengthAdjust="spacingAndGlyphs">0.01</text><line x1="1510.6" x2="1516.8" y1="864.8" y2="864.8" class="tk"/><text x="1463.01" y="874.1" class="tl" textLength="42.39" lengthAdjust="spacingAndGlyphs">0.02</text><line x1="1510.6" x2="1516.8" y1="820.2" y2="820.2" class="tk"/><text x="1462.87" y="829.5" class="tl" textLength="42.39" lengthAdjust="spacingAndGlyphs">0.03</text><line x1="1510.6" x2="1516.8" y1="776.1" y2="776.1" class="tk"/><text x="1462.55" y="785.4" class="tl" textLength="42.39" lengthAdjust="spacingAndGlyphs">0.04</text><line x1="1510.6" x2="1516.8" y1="731.8" y2="731.8" class="tk"/><text x="1462.82" y="741.1" class="tl" textLength="42.39" lengthAdjust="spacingAndGlyphs">0.05</text><line x1="1590.08" x2="1590.08" y1="990.7" y2="996.7" class="tk"/><text x="1577.55" y="1021.3" class="tl" textLength="23.86" lengthAdjust="spacingAndGlyphs">75</text><line x1="1665.19" x2="1665.19" y1="990.7" y2="996.7" class="tk"/><text x="1646.4" y="1021.3" class="tl" textLength="35.79" lengthAdjust="spacingAndGlyphs">100</text><line x1="1740.31" x2="1740.31" y1="990.7" y2="996.7" class="tk"/><text x="1721.54" y="1021.3" class="tl" textLength="35.79" lengthAdjust="spacingAndGlyphs">125</text><line x1="1815.42" x2="1815.42" y1="990.7" y2="996.7" class="tk"/><text x="1796.63" y="1021.3" class="tl" textLength="35.79" lengthAdjust="spacingAndGlyphs">150</text><line x1="1890.53" x2="1890.53" y1="990.7" y2="996.7" class="tk"/><text x="1871.77" y="1021.3" class="tl" textLength="35.79" lengthAdjust="spacingAndGlyphs">175</text><text x="1654.79" y="1053.3" class="ti" textLength="111.56" lengthAdjust="spacingAndGlyphs">Incidence</text><text transform="translate(1452.2,0) rotate(-90)" x="-934.6" y="0" class="ti" textLength="149.81" lengthAdjust="spacingAndGlyphs">rs114798100</text><text x="1947.27" y="784.3" class="ti" textLength="118.47" lengthAdjust="spacingAndGlyphs">Ethnicities</text><circle cx="1967.3" cy="815.8" r="6.9" fill="#F8161C"/><text x="2001.21" y="826.9" class="lg" textLength="40.84" lengthAdjust="spacingAndGlyphs">AFR</text><circle cx="1967.3" cy="856.9" r="6.9" fill="#0A78BD"/><text x="2001.21" y="867.9" class="lg" textLength="43.91" lengthAdjust="spacingAndGlyphs">AMR</text><circle cx="1967.3" cy="899.4" r="6.9" fill="#0BB04A"/><text x="1999.55" y="909.9" class="lg" textLength="95" lengthAdjust="spacingAndGlyphs">EAS+SAS</text><circle cx="1967.3" cy="940.3" r="6.9" fill="#A64EAA"/><text x="2000.01" y="951.2" class="lg" textLength="46.1" lengthAdjust="spacingAndGlyphs">EUR</text></g>
</svg></body></html>
